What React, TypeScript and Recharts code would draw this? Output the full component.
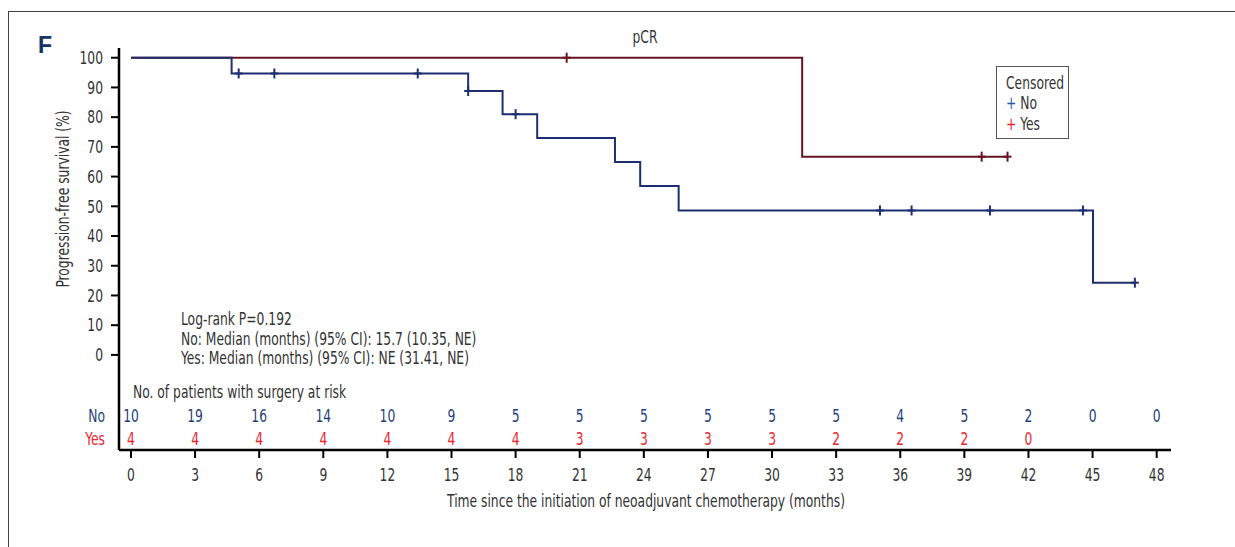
import React from 'react'
import { ComposedChart, Line, Scatter, XAxis, YAxis } from 'recharts'

const FONT = "'Liberation Sans Narrow', 'DejaVu Sans Condensed', 'Arial Narrow', sans-serif"
const FS = 18
const SX = 0.76 // squeeze to mimic a condensed face

// Kaplan-Meier steps (months, % survival)
const noTimes = [0, 4.71, 15.78, 17.39, 19.01, 22.65, 23.83, 25.63, 45.02, 46.98]
const noSurv = [100, 94.7, 88.8, 81.0, 73.0, 64.9, 56.8, 48.6, 24.3, 24.3]
const yesTimes = [0, 31.41, 41.02]
const yesSurv = [100, 66.7, 66.7]

// censored marks
const noCensorTimes = [5.04, 6.71, 13.42, 15.78, 18.0, 35.05, 36.53, 40.2, 44.55, 46.98]
const noCensorSurv = [94.7, 94.7, 94.7, 88.8, 81.0, 48.6, 48.6, 48.6, 48.6, 24.3]
const yesCensorTimes = [20.39, 39.81, 41.02]
const yesCensorSurv = [100, 66.7, 66.7]

// number at risk table
const riskTimes = [0, 3, 6, 9, 12, 15, 18, 21, 24, 27, 30, 33, 36, 39, 42, 45, 48]
const noAtRisk = [10, 19, 16, 14, 10, 9, 5, 5, 5, 5, 5, 5, 4, 5, 2, 0, 0]
const yesAtRisk = [4, 4, 4, 4, 4, 4, 4, 3, 3, 3, 3, 2, 2, 2, 0]

const yTicks = [0, 10, 20, 30, 40, 50, 60, 70, 80, 90, 100]

const BLUE_LINE = '#1d2f6e'
const RED_LINE = '#6a1422'
const BLUE_TXT = '#1f3f78'
const RED_TXT = '#ee2430'

// rows of the risk table sit below zero on the survival scale
const NO_ROW = -20.5
const YES_ROW = -28.3

const zip = (ts: number[], ss: number[]) => ts.map((t, i) => ({ t, s: ss[i] }))

const noData = zip(noTimes, noSurv)
const yesData = zip(yesTimes, yesSurv)
const noCensor = zip(noCensorTimes, noCensorSurv)
const yesCensor = zip(yesCensorTimes, yesCensorSurv)
const noRisk = noAtRisk.map((n, i) => ({ t: riskTimes[i], s: NO_ROW, n }))
const yesRisk = yesAtRisk.map((n, i) => ({ t: riskTimes[i], s: YES_ROW, n }))

function SqText({ x, y, anchor = 'middle', color = '#333', children }: any) {
  return (
    <g transform={`translate(${x},${y})`}>
      <text
        transform={`scale(${SX},1)`}
        x={0}
        y={0}
        fill={color}
        fontSize={FS}
        fontFamily={FONT}
        textAnchor={anchor}
        dominantBaseline="central"
      >
        {children}
      </text>
    </g>
  )
}

const plus = (color: string) => (props: any) => {
  const { cx, cy } = props
  return (
    <g stroke={color} strokeWidth={2}>
      <line x1={cx} x2={cx} y1={cy - 5} y2={cy + 5} />
      <line x1={cx - 4} x2={cx + 4} y1={cy} y2={cy} />
    </g>
  )
}

const riskText = (color: string) => (props: any) => (
  <SqText x={props.cx} y={props.cy} color={color}>
    {props.payload.n}
  </SqText>
)

const xTick = (props: any) => (
  <SqText x={props.x} y={props.y}>
    {props.payload.value}
  </SqText>
)

const yTick = (props: any) => (
  <SqText x={props.x} y={props.y} anchor="end">
    {props.payload.value}
  </SqText>
)

function Txt({ x, y, children, color = '#333', size = FS, center = false, right = false, rotate = false, sx = SX, style = {} }: any) {
  const tx = center ? '-50%' : right ? '-100%' : '0'
  const origin = center ? 'center' : right ? 'right center' : 'left center'
  return (
    <div
      style={{
        position: 'absolute',
        left: x,
        top: y,
        transform: `translate(${tx}, -50%)${rotate ? ' rotate(-90deg)' : ''} scaleX(${sx})`,
        transformOrigin: origin,
        fontFamily: FONT,
        fontSize: size,
        color,
        whiteSpace: 'nowrap',
        lineHeight: 1,
        ...style,
      }}
    >
      {children}
    </div>
  )
}

export default function App() {
  return (
    <div style={{ position: 'absolute', left: 0, top: 0, width: 1235, height: 547, background: '#fff', overflow: 'hidden' }}>
      <div style={{ position: 'absolute', left: 8, top: 11, width: 1240, height: 550, borderTop: '1.5px solid #444', borderLeft: '1.5px solid #444' }} />
      <ComposedChart width={1235} height={547} margin={{ top: 48, right: 64, bottom: 47, left: 59 }}>
        <XAxis
          type="number"
          dataKey="t"
          domain={[-0.56, 48.67]}
          ticks={riskTimes}
          allowDataOverflow
          height={50}
          stroke="#000"
          strokeWidth={2.5}
          tickSize={8}
          tickMargin={17}
          tick={xTick}
          tickLine={{ stroke: '#000', strokeWidth: 2 }}
        />
        <YAxis
          type="number"
          dataKey="s"
          domain={[-32, 103.27]}
          ticks={yTicks}
          allowDataOverflow
          width={60}
          stroke="#000"
          strokeWidth={2.5}
          tickSize={8}
          tickMargin={8}
          tick={yTick}
          tickLine={{ stroke: '#000', strokeWidth: 2 }}
        />
        <Line data={yesData} dataKey="s" type="stepAfter" stroke={RED_LINE} strokeWidth={2} dot={false} isAnimationActive={false} />
        <Line data={noData} dataKey="s" type="stepAfter" stroke={BLUE_LINE} strokeWidth={2} dot={false} isAnimationActive={false} />
        <Scatter data={yesCensor} dataKey="s" shape={plus(RED_LINE)} isAnimationActive={false} />
        <Scatter data={noCensor} dataKey="s" shape={plus(BLUE_LINE)} isAnimationActive={false} />
        <Scatter data={noRisk} dataKey="s" shape={riskText(BLUE_TXT)} isAnimationActive={false} />
        <Scatter data={yesRisk} dataKey="s" shape={riskText(RED_TXT)} isAnimationActive={false} />
      </ComposedChart>

      <Txt x={38} y={45} size={23} sx={1} color="#17335f" style={{ fontFamily: "'Liberation Sans', Arial, sans-serif", fontWeight: 700 }}>F</Txt>
      <Txt x={645} y={37} center>pCR</Txt>
      <Txt x={63} y={199} center rotate>Progression-free survival (%)</Txt>
      <Txt x={646} y={501} center>Time since the initiation of neoadjuvant chemotherapy (months)</Txt>

      <Txt x={181} y={319}>Log-rank P=0.192</Txt>
      <Txt x={181} y={339}>No: Median (months) (95% CI): 15.7 (10.35, NE)</Txt>
      <Txt x={181} y={358}>Yes: Median (months) (95% CI): NE (31.41, NE)</Txt>

      <Txt x={133} y={392}>No. of patients with surgery at risk</Txt>
      <Txt x={105} y={416} right color={BLUE_TXT}>No</Txt>
      <Txt x={105} y={439} right color={RED_TXT}>Yes</Txt>

      <div style={{ position: 'absolute', left: 996, top: 66, width: 73, height: 73, boxSizing: 'border-box', border: '1.5px solid #555' }} />
      <Txt x={1006} y={83}>Censored</Txt>
      <Txt x={1006} y={103}><span style={{ color: '#2b5aa0' }}>+</span> No</Txt>
      <Txt x={1006} y={124}><span style={{ color: RED_TXT }}>+</span> Yes</Txt>
    </div>
  )
}
